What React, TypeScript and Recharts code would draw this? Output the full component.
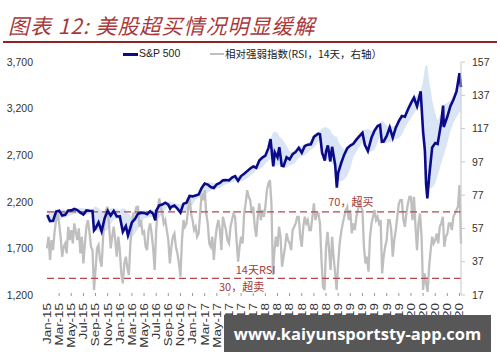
import React from "react";
import {
  ComposedChart,
  Area,
  Line,
  XAxis,
  YAxis,
  ReferenceLine,
} from "recharts";

// months since Jan 2015 (0 = 1 Jan 2015)
const months = [
  0.05, 0.5, 1, 1.5, 2, 2.5, 3, 3.5, 4, 4.5, 5, 5.5, 6, 6.5, 7, 7.5, 7.75, 8, 8.5, 9, 9.5, 10, 10.5, 11, 11.5,
  12, 12.5, 13, 13.35, 14, 14.5, 15, 15.5, 16, 16.5, 17, 17.5, 17.85, 18, 18.5, 19, 19.5, 20, 20.3, 20.5, 21, 21.5, 22, 22.5, 23, 23.5,
  24, 24.5, 25, 25.5, 26, 26.5, 27, 27.5, 28, 28.5, 29, 29.5, 30, 30.5, 31, 31.5, 32, 32.5, 33, 33.5, 34, 34.5, 35, 35.5,
  36, 36.5, 36.85, 37.3, 37.55, 38, 38.3, 38.7, 39, 39.5, 40, 40.5, 41, 41.5, 42, 42.5, 43, 43.5, 44, 44.7, 45, 45.35, 45.8, 46, 46.3, 46.7, 47, 47.5, 47.78,
  48, 48.5, 49, 49.5, 50, 50.5, 51, 51.5, 52, 52.4, 52.9, 53.5, 54, 54.5, 54.9, 55.2, 55.5, 56, 56.5, 57, 57.5, 58, 58.5, 59, 59.5,
  60, 60.5, 61, 61.6, 62, 62.3, 62.5, 62.7, 63, 63.5, 64, 64.4, 65, 65.3, 65.4, 66, 66.5, 67, 67.5, 68, 68.25,
];

// S&P 500 (left axis)
const spx = [
  2058, 1992, 1995, 2096, 2105, 2053, 2060, 2106, 2108, 2123, 2111, 2084, 2063, 2108, 2104, 2102, 1893, 1914, 1979, 1884, 2023, 2104, 2053, 2102, 2043,
  2044, 1880, 1940, 1840, 1978, 2015, 2073, 2081, 2081, 2066, 2099, 2071, 2000, 2102, 2161, 2170, 2190, 2170, 2128, 2147, 2161, 2126, 2085, 2180, 2191, 2262,
  2258, 2268, 2279, 2349, 2396, 2385, 2359, 2349, 2388, 2402, 2430, 2433, 2429, 2460, 2476, 2425, 2476, 2500, 2529, 2557, 2579, 2565, 2642, 2675,
  2695, 2776, 2873, 2581, 2731, 2677, 2786, 2588, 2582, 2677, 2655, 2711, 2735, 2780, 2726, 2798, 2813, 2818, 2896, 2930, 2924, 2728, 2641, 2740, 2806, 2633, 2790, 2600, 2351,
  2510, 2616, 2706, 2775, 2803, 2822, 2867, 2905, 2940, 2812, 2744, 2889, 2964, 3014, 3025, 2844, 2847, 2906, 2997, 2888, 2995, 3066, 3120, 3113, 3191,
  3258, 3317, 3225, 3386, 2954, 2746, 2386, 2237, 2470, 2783, 2831, 2820, 3055, 3232, 3002, 3115, 3226, 3295, 3381, 3580, 3430,
];

// shaded band around the index (left axis)
const bandLo = [
  2000, 1985, 1980, 1985, 2000, 2020, 2035, 2045, 2055, 2070, 2075, 2070, 2060, 2055, 2070, 2075, 2000, 1900, 1880, 1870, 1880, 1900, 1960, 2010, 2020,
  2010, 1930, 1870, 1830, 1820, 1860, 1910, 1970, 2020, 2030, 2035, 2040, 2020, 2010, 2030, 2070, 2120, 2150, 2140, 2130, 2130, 2125, 2110, 2090, 2100, 2130,
  2170, 2220, 2240, 2250, 2270, 2300, 2320, 2330, 2340, 2350, 2370, 2390, 2400, 2410, 2420, 2420, 2420, 2430, 2450, 2480, 2510, 2540, 2550, 2570,
  2610, 2640, 2660, 2600, 2590, 2590, 2600, 2590, 2570, 2570, 2590, 2600, 2630, 2670, 2690, 2700, 2730, 2760, 2780, 2840, 2870, 2800, 2700, 2660, 2650, 2640, 2620, 2560, 2460,
  2430, 2420, 2440, 2480, 2560, 2680, 2740, 2790, 2830, 2800, 2740, 2740, 2760, 2840, 2900, 2860, 2830, 2830, 2840, 2860, 2870, 2880, 2920, 2990, 3050,
  3100, 3150, 3200, 3220, 3050, 2850, 2600, 2450, 2350, 2350, 2400, 2480, 2620, 2680, 2700, 2830, 2960, 3050, 3110, 3160, 3180,
];
const bandHi = [
  2110, 2105, 2100, 2110, 2120, 2120, 2115, 2115, 2120, 2125, 2130, 2130, 2130, 2125, 2125, 2120, 2140, 2150, 2130, 2100, 2090, 2120, 2130, 2130, 2120,
  2110, 2130, 2120, 2080, 2040, 2060, 2090, 2100, 2110, 2100, 2105, 2110, 2120, 2125, 2150, 2180, 2200, 2200, 2200, 2195, 2185, 2180, 2175, 2180, 2200, 2250,
  2275, 2285, 2290, 2330, 2390, 2410, 2410, 2400, 2400, 2410, 2430, 2450, 2455, 2465, 2480, 2485, 2485, 2505, 2530, 2560, 2585, 2595, 2630, 2670,
  2700, 2780, 2880, 2950, 2950, 2940, 2900, 2880, 2850, 2800, 2740, 2740, 2760, 2790, 2800, 2810, 2830, 2850, 2900, 2940, 2960, 2990, 3000, 3000, 2990, 2970, 2930, 2900, 2900,
  2850, 2800, 2760, 2760, 2800, 2840, 2870, 2920, 2950, 2970, 2980, 2960, 2990, 3030, 3050, 3070, 3060, 3020, 3010, 3010, 3010, 3060, 3120, 3140, 3170,
  3250, 3320, 3340, 3390, 3500, 3640, 3670, 3660, 3500, 3290, 3150, 3075, 3150, 3240, 3240, 3260, 3290, 3340, 3420, 3590, 3600,
];

// RSI 14, weekly readings (right axis), one row per year
const rsiWeekly = [
  45, 52, 38, 50, 44, 55, 62, 66, 60, 52, 40, 46, 48, 42, 58, 50, 56, 48, 60, 55, 50, 57, 42, 52,
  36, 48, 58, 62, 55, 46, 44, 20, 32, 45, 47, 38, 34, 52, 62, 68, 70, 58, 45, 52, 58, 50, 40, 52,
  44, 30, 24, 36, 40, 33, 29, 48, 60, 66, 66, 70, 70, 58, 62, 54, 55, 46, 44, 56, 60, 54, 45, 32,
  56, 68, 75, 70, 66, 60, 62, 56, 50, 36, 46, 52, 54, 46, 42, 36, 28, 50, 62, 58, 60, 68, 76, 66,
  62, 56, 58, 52, 54, 66, 78, 74, 80, 66, 60, 48, 46, 52, 38, 50, 58, 62, 56, 44, 64, 60, 56, 50,
  48, 58, 62, 66, 64, 50, 37, 46, 52, 48, 66, 72, 80, 76, 74, 66, 70, 58, 52, 64, 72, 62, 68, 64,
  70, 80, 84, 86, 72, 29, 44, 52, 46, 58, 52, 34, 40, 46, 54, 50, 48, 44, 56, 58, 60, 64, 64, 52,
  46, 58, 64, 60, 62, 56, 56, 64, 72, 62, 66, 66, 60, 38, 22, 20, 46, 55, 44, 32, 52, 40, 30, 20,
  36, 48, 55, 60, 64, 68, 70, 62, 68, 54, 60, 56, 64, 68, 72, 70, 68, 46, 36, 40, 31, 52, 60, 64,
  68, 62, 64, 60, 62, 30, 40, 46, 50, 62, 62, 56, 40, 50, 56, 64, 72, 74, 74, 62, 58, 66, 72, 76,
  76, 62, 76, 58, 44, 60, 66, 52, 20, 30, 24, 19, 34, 44, 52, 48, 50, 54, 48, 58, 60, 64, 46, 52,
  54, 60, 60, 56, 64, 66, 68, 70, 83, 48,
];
// week positions in months (quarter-month steps)
const rsiMonths = rsiWeekly.map((_, i) => i * 0.25);

const tickMonths = [
  0, 2, 4, 6, 8, 10, 12, 14, 16, 18, 20, 22, 24, 26, 28, 30, 32, 34,
  36, 38, 40, 42, 44, 46, 48, 50, 52, 54, 56, 58, 60, 62, 64, 66, 68,
];
const tickLabels = [
  "Jan-15", "Mar-15", "May-15", "Jul-15", "Sep-15", "Nov-15",
  "Jan-16", "Mar-16", "May-16", "Jul-16", "Sep-16", "Nov-16",
  "Jan-17", "Mar-17", "May-17", "Jul-17", "Sep-17", "Nov-17",
  "Jan-18", "Mar-18", "May-18", "Jul-18", "Sep-18", "Nov-18",
  "Jan-19", "Mar-19", "May-19", "Jul-19", "Sep-19", "Nov-19",
  "Jan-20", "Mar-20", "May-20", "Jul-20", "Sep-20",
];
const leftTicks = [1200, 1700, 2200, 2700, 3200, 3700];
const rightTicks = [17, 37, 57, 77, 97, 117, 137, 157];

const data = months.map((t, i) => ({
  t,
  spx: spx[i],
  band: [bandLo[i], bandHi[i]],
}));
const rsiData = rsiMonths.map((t, i) => ({ t, rsi: rsiWeekly[i] }));

const RED = "#A8383A";
const FONT = "'Liberation Sans', Arial, sans-serif";
const CJK = "'Noto Sans CJK SC', sans-serif";

const XTick = (props: any) => {
  const { x, y, payload } = props;
  const label = tickLabels[tickMonths.indexOf(payload.value)];
  return (
    <g transform={`translate(${x},${y})`}>
      {payload.value > 0 && (
        <line x1={0} x2={0} y1={-10} y2={-7} stroke="#999" strokeWidth={1} />
      )}
      <text
        transform="rotate(-90) scale(1.22,1)"
        textAnchor="end"
        dy="0.35em"
        fontSize={11}
        fill="#333"
      >
        {label}
      </text>
    </g>
  );
};

const lineLabel = (text: string, frac: number, dy: number) => (props: any) => {
  const vb = props.viewBox;
  return (
    <text
      x={vb.x + vb.width * frac}
      y={vb.y + dy}
      textAnchor="middle"
      fontSize={11}
      fill={RED}
      style={{ fontFamily: CJK }}
    >
      {text}
    </text>
  );
};

export default function App() {
  return (
    <div
      style={{
        position: "relative",
        width: 500,
        height: 362,
        background: "#fff",
        overflow: "hidden",
        fontFamily: FONT,
      }}
    >
      <style>{`body{margin:0}`}</style>

      <div
        style={{
          position: "absolute",
          left: 8,
          top: 13,
          fontFamily: CJK,
          fontStyle: "italic",
          fontSize: 21,
          lineHeight: "24px",
          letterSpacing: 1,
          color: RED,
          whiteSpace: "nowrap",
        }}
      >
        图表 12: 美股超买情况明显缓解
      </div>
      <div
        style={{
          position: "absolute",
          left: 3,
          top: 41,
          width: 494,
          height: 1.5,
          background: "#8E2424",
        }}
      />

      {/* legend */}
      <div style={{ position: "absolute", left: 123, top: 53, width: 15, height: 2.5, background: "#0B0B8A" }} />
      <div style={{ position: "absolute", left: 139, top: 47, fontSize: 10.5, lineHeight: "13px", color: "#222" }}>
        S&amp;P 500
      </div>
      <div style={{ position: "absolute", left: 210, top: 53, width: 14, height: 1.5, background: "#BFBFBF" }} />
      <div
        style={{
          position: "absolute",
          left: 225,
          top: 47,
          fontSize: 10.5,
          lineHeight: "13px",
          color: "#222",
          fontFamily: CJK,
          whiteSpace: "nowrap",
        }}
      >
        相对强弱指数(RSI，14天，右轴）
      </div>

      <div style={{ position: "absolute", left: 0, top: 0 }}>
        <ComposedChart
          width={500}
          height={362}
          data={data}
          margin={{ top: 62, right: 0, bottom: 0, left: 0 }}
        >
          <XAxis
            dataKey="t"
            type="number"
            domain={[0, 68.25]}
            ticks={tickMonths}
            interval={0}
            tick={(p: any) => <XTick {...p} />}
            tickLine={false}
            axisLine={false}
            height={67}
          />
          <YAxis
            yAxisId="l"
            domain={[1200, 3700]}
            ticks={leftTicks}
            width={47}
            tickSize={0}
            tickMargin={14}
            axisLine={false}
            tickLine={false}
            tick={{ fontSize: 10.5, fill: "#333" }}
            tickFormatter={(v: number) => v.toLocaleString("en-US")}
          />
          <YAxis
            yAxisId="r"
            orientation="right"
            domain={[17, 157]}
            ticks={rightTicks}
            width={39}
            tickSize={4}
            tickMargin={7}
            axisLine={{ stroke: "#C8C8C8" }}
            tickLine={{ stroke: "#C8C8C8" }}
            tick={{ fontSize: 10.5, fill: "#333" }}
          />
          <Area
            yAxisId="l"
            dataKey="band"
            stroke="none"
            fill="#D9E4F5"
            fillOpacity={1}
            isAnimationActive={false}
          />
          <Line
            yAxisId="r"
            data={rsiData}
            dataKey="rsi"
            stroke="#BFBFBF"
            strokeWidth={2.3}
            dot={false}
            isAnimationActive={false}
          />
          <ReferenceLine
            yAxisId="r"
            y={67}
            stroke="#B5474A"
            strokeWidth={1.3}
            strokeDasharray="7 4"
            label={lineLabel("70，超买", 0.734, -6)}
          />
          <ReferenceLine
            yAxisId="r"
            y={27}
            stroke="#B5474A"
            strokeWidth={1.3}
            strokeDasharray="7 4"
            label={lineLabel("14天RSI", 0.504, -4)}
          />
          <ReferenceLine
            yAxisId="r"
            y={27}
            stroke="none"
            label={lineLabel("30，超卖", 0.47, 13)}
          />
          <Line
            yAxisId="l"
            dataKey="spx"
            stroke="#0B0B8A"
            strokeWidth={2.6}
            dot={false}
            isAnimationActive={false}
          />
        </ComposedChart>
      </div>

      {/* watermark banner */}
      <div
        style={{
          position: "absolute",
          left: 224,
          top: 315,
          width: 267,
          height: 37,
          background: "#575757",
          color: "#fff",
          fontFamily: "'Open Sans', sans-serif",
          fontWeight: 700,
          fontSize: 16.5,
          lineHeight: "37px",
          textAlign: "center",
          whiteSpace: "nowrap",
        }}
      >
        www.kaiyunsportsty-app.com
      </div>
    </div>
  );
}
